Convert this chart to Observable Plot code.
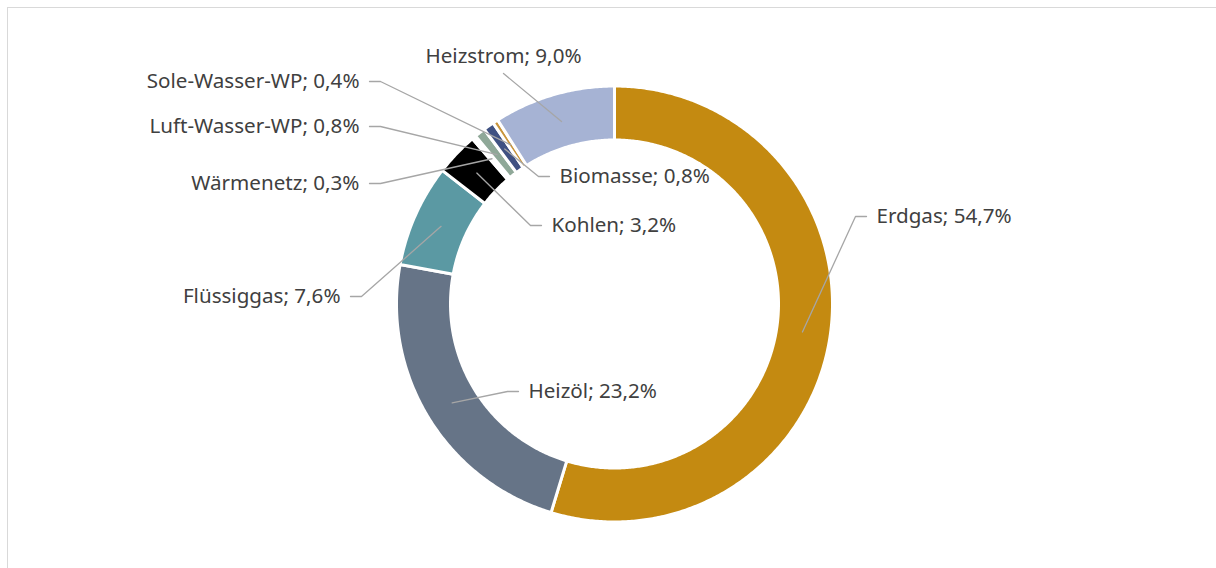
<!DOCTYPE html>
<html><head><meta charset="utf-8">
<script src="https://cdn.jsdelivr.net/npm/d3@7"></script>
<script src="https://cdn.jsdelivr.net/npm/@observablehq/plot@0.6"></script>
<style>
html,body{margin:0;padding:0;background:#fff;overflow:hidden;}
#frame{position:absolute;left:7px;top:7px;width:1300px;height:700px;border:1px solid #d9d9d9;}
#chart{position:absolute;left:0;top:0;}
</style></head><body>
<div id="frame"></div><div id="chart"></div>
<script>
// ---- data ----
const categories = ["Erdgas","Heizöl","Flüssiggas","Kohlen","Wärmenetz","Luft-Wasser-WP","Biomasse","Sole-Wasser-WP","Heizstrom"];
const shares = [54.7, 23.2, 7.6, 3.2, 0.3, 0.8, 0.8, 0.4, 9.0];
const shareLabels = ["54,7%","23,2%","7,6%","3,2%","0,3%","0,8%","0,8%","0,4%","9,0%"];
const colors = ["#c48a11","#667487","#5b99a3","#000000","#ffffff","#8fa898","#3f5182","#c9953c","#a6b3d4"];

// ---- layout (screen px) ----
const W = 1216, H = 568, CX = 614, CY = 303.5;
const R_OUT = 218, R_IN = 164, R_LEAD = 190;
const labelX = [876, 528, 340, 551, 359, 359, 559, 359, 503];
const labelY = [216, 391, 296, 225, 183, 126, 176, 81, 56];
const labelAnchor = ["start","start","end","start","end","end","start","end","middle"];

const total = d3.sum(shares);
let acc = 0;
const slices = categories.map((c, i) => {
  const a0 = acc / total * 2 * Math.PI; acc += shares[i];
  const a1 = acc / total * 2 * Math.PI;
  return {c, i, a0, a1, mid: (a0 + a1) / 2};
});
const pt = (r, a) => ({x: r * Math.sin(a), y: -r * Math.cos(a)});

const marks = [];
for (const s of slices) {
  const n = Math.max(4, Math.ceil((s.a1 - s.a0) / (Math.PI / 360)));
  const pts = [];
  for (let k = 0; k <= n; k++) pts.push(pt(R_OUT, s.a0 + (s.a1 - s.a0) * k / n));
  for (let k = n; k >= 0; k--) pts.push(pt(R_IN, s.a0 + (s.a1 - s.a0) * k / n));
  marks.push(Plot.line(pts, {x: "x", y: "y", fill: colors[s.i], stroke: "white", strokeWidth: 3, curve: "linear-closed"}));
}

// leader lines
const leaders = slices.map(s => {
  const p = pt(R_LEAD, s.mid);
  const tx = labelX[s.i] - CX, ty = labelY[s.i] - CY, an = labelAnchor[s.i];
  let path;
  if (an === "start") path = [p, {x: tx - 21, y: ty}, {x: tx - 10, y: ty}];
  else if (an === "end") path = [p, {x: tx + 21, y: ty}, {x: tx + 10, y: ty}];
  else path = [p, {x: tx, y: ty + 17}];
  return path.map(q => ({...q, z: s.c}));
}).flat();
marks.push(Plot.line(leaders, {x: "x", y: "y", z: "z", stroke: "#a6a6a6", strokeWidth: 1.3}));

const labels = slices.map(s => ({x: labelX[s.i] - CX, y: labelY[s.i] - CY, t: `${s.c}; ${shareLabels[s.i]}`, a: labelAnchor[s.i]}));
for (const an of ["start","end","middle"]) {
  marks.push(Plot.text(labels.filter(d => d.a === an), {x: "x", y: "y", text: "t", textAnchor: an, fill: "#404040", fontSize: 20.6}));
}

const chart = Plot.plot({
  width: W, height: H, margin: 0,
  x: {domain: [-CX, W - CX], range: [0, W], axis: null},
  y: {domain: [-CY, H - CY], range: [0, H], axis: null},
  style: {fontFamily: "'Noto Sans', sans-serif", background: "transparent", overflow: "visible"},
  marks
});
document.getElementById("chart").append(chart);
</script>
</body></html>
